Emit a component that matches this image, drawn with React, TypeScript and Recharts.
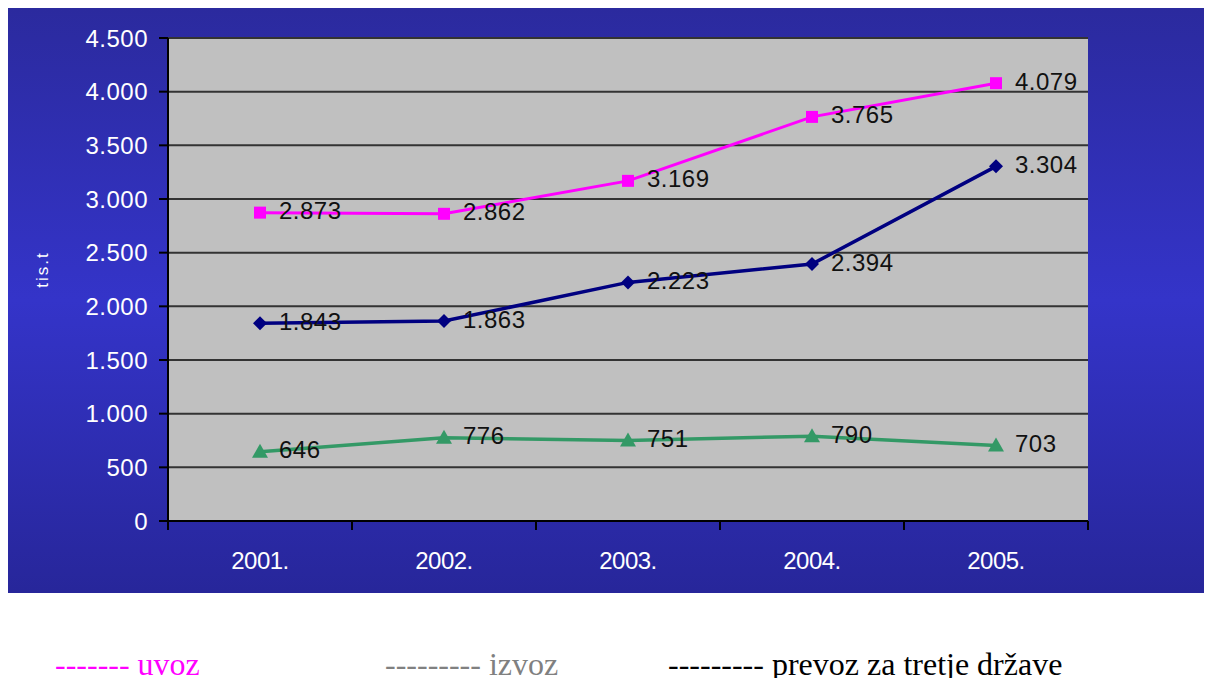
import React from 'react';
import { LineChart, Line, XAxis, YAxis, CartesianGrid, LabelList } from 'recharts';

const years = ['2001.', '2002.', '2003.', '2004.', '2005.'];
const uvoz = [2873, 2862, 3169, 3765, 4079];
const izvoz = [1843, 1863, 2223, 2394, 3304];
const prevoz = [646, 776, 751, 790, 703];
const yTicks = [0, 500, 1000, 1500, 2000, 2500, 3000, 3500, 4000, 4500];
const yLabel = 'tis.t';
const legendItems = [
  { text: '------- uvoz', color: '#FF00FF', left: 47 },
  { text: '--------- izvoz', color: '#808080', left: 377 },
  { text: '--------- prevoz za tretje države', color: '#000000', left: 660 },
];

const data = years.map((y, i) => ({ year: y, uvoz: uvoz[i], izvoz: izvoz[i], prevoz: prevoz[i] }));

const fmt = (v: number) =>
  v >= 1000 ? `${Math.floor(v / 1000)}.${String(v % 1000).padStart(3, '0')}` : String(v);

const SANS = '"Liberation Sans", Arial, sans-serif';

const SquareDot = (p: any) => {
  const { cx, cy } = p;
  return <rect x={cx - 6} y={cy - 6} width={12} height={12} fill="#FF00FF" />;
};
const DiamondDot = (p: any) => {
  const { cx, cy } = p;
  return (
    <polygon
      points={`${cx},${cy - 7} ${cx + 7},${cy} ${cx},${cy + 7} ${cx - 7},${cy}`}
      fill="#000080"
    />
  );
};
const TriangleDot = (p: any) => {
  const { cx, cy } = p;
  return (
    <polygon points={`${cx},${cy - 8} ${cx + 8},${cy + 6} ${cx - 8},${cy + 6}`} fill="#339966" />
  );
};

const ValueLabel = (p: any) => {
  const { x, y, value } = p;
  return (
    <text
      x={x + 19}
      y={y - 2}
      fontSize={24}
      fill="#111"
      fontFamily={SANS}
      dominantBaseline="central"
      letterSpacing={0.5}
    >
      {fmt(value)}
    </text>
  );
};

const XTick = (p: any) => {
  const { x, y, payload, index, visibleTicksCount } = p;
  const half = payload && typeof payload.offset === 'number' ? payload.offset : 0;
  const isLast = index === visibleTicksCount - 1;
  return (
    <g>
      <line x1={x - half} x2={x - half} y1={y - 8} y2={y + 1} stroke="#000" strokeWidth={2} />
      {isLast && (
        <line x1={x + half} x2={x + half} y1={y - 8} y2={y + 1} stroke="#000" strokeWidth={2} />
      )}
      <text
        x={x}
        y={y + 31}
        textAnchor="middle"
        fill="#fff"
        fontSize={24}
        fontFamily={SANS}
        dominantBaseline="central"
        letterSpacing={-0.5}
      >
        {payload.value}
      </text>
    </g>
  );
};

const YLabel = (p: any) => {
  const vb = p.viewBox || { x: 0, y: 0, width: 160, height: 483 };
  const cx = vb.x + 34;
  const cy = vb.y + vb.height / 2 - 10;
  return (
    <text
      x={cx}
      y={cy}
      transform={`rotate(-90, ${cx}, ${cy})`}
      textAnchor="middle"
      dominantBaseline="central"
      fill="#fff"
      fontSize={17}
      letterSpacing={2}
      fontFamily={SANS}
    >
      {yLabel}
    </text>
  );
};

export default function App() {
  return (
    <div style={{ position: 'relative', width: 1200, height: 670 }}>
      <div
        style={{
          width: 1200,
          height: 585,
          background: 'linear-gradient(to bottom, #2B2A9E 0%, #3434C9 50%, #27269A 100%)',
        }}
      >
        <LineChart
          width={1200}
          height={585}
          data={data}
          margin={{ top: 30, right: 120, bottom: 0, left: 0 }}
        >
          <CartesianGrid
            vertical={false}
            fill="#C0C0C0"
            stroke="#333"
            strokeWidth={2}
            fillOpacity={1}
          />
          <XAxis
            dataKey="year"
            scale="band"
            height={72}
            axisLine={{ stroke: '#000', strokeWidth: 2 }}
            tickLine={false}
            tick={<XTick />}
            interval={0}
          />
          <XAxis
            xAxisId="top"
            orientation="top"
            dataKey="year"
            scale="band"
            height={0}
            axisLine={{ stroke: '#808080', strokeWidth: 3 }}
            tickLine={false}
            tick={false}
          />
          <YAxis
            domain={[0, 4500]}
            ticks={yTicks}
            width={160}
            axisLine={{ stroke: '#000', strokeWidth: 2 }}
            tickLine={{ stroke: '#000', strokeWidth: 2 }}
            tickSize={9}
            tickMargin={11}
            tickFormatter={fmt}
            tick={{ fill: '#fff', fontSize: 24, fontFamily: SANS, letterSpacing: 0.5 }}
            label={<YLabel />}
            interval={0}
          />
          <YAxis
            yAxisId="right"
            orientation="right"
            domain={[0, 4500]}
            width={0}
            axisLine={{ stroke: '#808080', strokeWidth: 4 }}
            tickLine={false}
            tick={false}
          />
          <Line
            dataKey="uvoz"
            stroke="#FF00FF"
            strokeWidth={3}
            dot={<SquareDot />}
            activeDot={false}
            isAnimationActive={false}
          >
            <LabelList dataKey="uvoz" content={<ValueLabel />} />
          </Line>
          <Line
            dataKey="izvoz"
            stroke="#000080"
            strokeWidth={3.5}
            dot={<DiamondDot />}
            activeDot={false}
            isAnimationActive={false}
          >
            <LabelList dataKey="izvoz" content={<ValueLabel />} />
          </Line>
          <Line
            dataKey="prevoz"
            stroke="#339966"
            strokeWidth={3.5}
            dot={<TriangleDot />}
            activeDot={false}
            isAnimationActive={false}
          >
            <LabelList dataKey="prevoz" content={<ValueLabel />} />
          </Line>
        </LineChart>
      </div>
      {legendItems.map((it) => (
        <div
          key={it.text}
          style={{
            position: 'absolute',
            left: it.left,
            top: 640,
            color: it.color,
            fontFamily: '"Liberation Serif", "Times New Roman", serif',
            fontSize: 32,
            lineHeight: '32px',
            whiteSpace: 'nowrap',
          }}
        >
          {it.text}
        </div>
      ))}
    </div>
  );
}
